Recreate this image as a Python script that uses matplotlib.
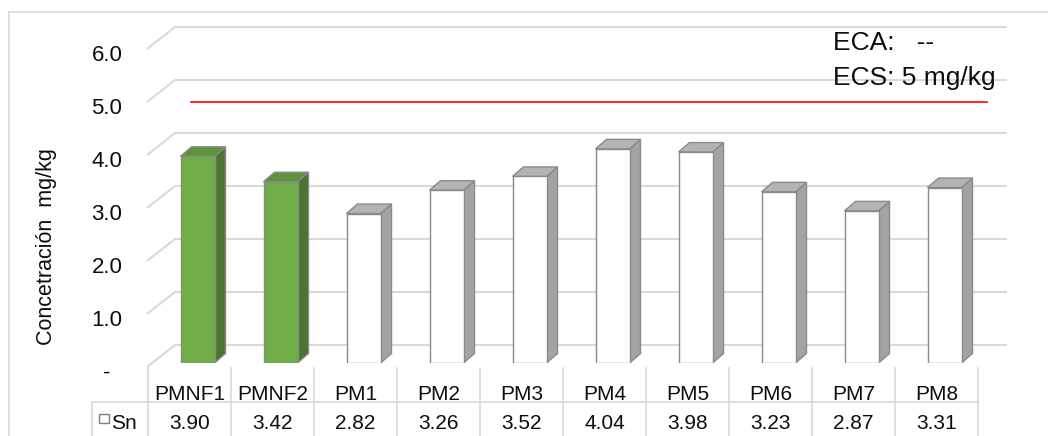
import matplotlib
matplotlib.use("Agg")
import matplotlib.pyplot as plt
import matplotlib.transforms as mtransforms
from matplotlib import font_manager
from matplotlib.patches import Polygon, Rectangle
from matplotlib.lines import Line2D

# datos de concentración de Sn por punto de muestreo
categorias = ["PMNF1", "PMNF2", "PM1", "PM2", "PM3", "PM4", "PM5", "PM6", "PM7", "PM8"]
sn_valores = [3.90, 3.42, 2.82, 3.26, 3.52, 4.04, 3.98, 3.23, 2.87, 3.31]
ecs_limite = 5.0
y_ticks = [0, 1, 2, 3, 4, 5, 6]
y_etiquetas = ["-  ", "1.0", "2.0", "3.0", "4.0", "5.0", "6.0"]

# fuente estrecha tipo Arial Narrow si existe
try:
    font_manager.findfont("Liberation Sans Narrow", fallback_to_default=False)
    FUENTE = "Liberation Sans Narrow"
except ValueError:
    FUENTE = "Liberation Sans"
plt.rcParams["font.family"] = [FUENTE, "DejaVu Sans"]

W, H = 1048, 436
fig = plt.figure(figsize=(W / 100, H / 100), dpi=100)


def fx(px):
    return px / W


def fy(py):
    return 1 - py / H


# ejes: x en categorías, y en mg/kg (plano frontal de las barras)
PX_X, PX_Y = 83.0, 53.0
ax = fig.add_axes([fx(148), fy(363), 830 / W, 6.5 * PX_Y / H])
ax.set_xlim(-0.5, 9.5)
ax.set_ylim(0, 6.5)
for s in ax.spines.values():
    s.set_visible(False)
ax.set_xticks([])
ax.set_yticks(y_ticks)
ax.set_yticklabels(y_etiquetas)
ax.tick_params(axis="y", length=0, pad=18.5, labelsize=16, labelcolor="#0d0d0d")
baja = mtransforms.ScaledTranslation(0, -0.08, fig.dpi_scale_trans)
for lab in ax.get_yticklabels():
    lab.set_transform(lab.get_transform() + baja)

# pared de fondo y suelo (efecto 3D)
gris = "#d9d9d9"
fondo_dy = 18 / PX_Y
frente_dy = -4 / PX_Y
x_frente = (147 - 148) / PX_X - 0.5
x_fondo_izq = (175 - 148) / PX_X - 0.5
x_fondo_der = (1007 - 148) / PX_X - 0.5
for v in y_ticks:
    ax.plot([x_frente, x_fondo_izq, x_fondo_der],
            [v + frente_dy, v + fondo_dy, v + fondo_dy],
            color=gris, lw=1.5, zorder=1, clip_on=False, solid_capstyle="butt")

# barras 3D
ancho = 34 / PX_X
desplaz = 8 / PX_X
ddx, ddy = 11 / PX_X, 9.5 / PX_Y
borde = "#8a8a8a"
for i, v in enumerate(sn_valores):
    if i < 2:
        cara, tapa, lado = "#70ad47", "#5f9338", "#4c7530"
    else:
        cara, tapa, lado = "#ffffff", "#b4b4b4", "#a3a3a3"
    xc = i + desplaz
    x0, x1 = xc - ancho / 2, xc + ancho / 2
    ax.add_patch(Polygon([(x1, 0), (x1, v), (x1 + ddx, v + ddy), (x1 + ddx, ddy)],
                         closed=True, fc=lado, ec=borde, lw=1.0, zorder=3))
    ax.add_patch(Polygon([(x0, v), (x1, v), (x1 + ddx, v + ddy), (x0 + ddx, v + ddy)],
                         closed=True, fc=tapa, ec=borde, lw=1.0, zorder=3))
    ax.bar(xc, v, ancho, color=cara, edgecolor=borde, lw=1.0, zorder=4)

# límite ECS
roja = mtransforms.ScaledTranslation(0, -0.035, fig.dpi_scale_trans)
ax.plot([0.02, 9.61], [ecs_limite, ecs_limite], color="#ff0000", lw=1.2,
        transform=ax.transData + roja, clip_on=False, zorder=2)
fig.text(fx(833), fy(43), "ECA:   --", fontsize=19, va="center", ha="left", color="#0d0d0d")
fig.text(fx(833), fy(78), "ECS: %g mg/kg" % ecs_limite, fontsize=19, va="center",
         ha="left", color="#0d0d0d")

# título del eje y
fig.text(fx(47), fy(247), "Concetración  mg/kg", rotation=90, fontsize=15.5,
         va="center", ha="center", color="#0d0d0d")

# tabla de datos bajo el eje
mezcla = mtransforms.blended_transform_factory(ax.transData, fig.transFigure)
for k in range(len(categorias) + 1):
    fig.add_artist(Line2D([k - 0.5, k - 0.5], [fy(368), 0], color=gris, lw=1.2,
                          transform=mezcla))
fig.add_artist(Line2D([fx(92), fx(978)], [fy(402), fy(402)], color=gris, lw=1.2))
fig.add_artist(Line2D([fx(92), fx(92)], [fy(402), 0], color=gris, lw=1.2))
for i, (c, v) in enumerate(zip(categorias, sn_valores)):
    ax.text(i, fy(394), c, transform=mezcla, ha="center", va="center",
            fontsize=15, color="#0d0d0d")
    ax.text(i, fy(423), "%.2f" % v, transform=mezcla, ha="center", va="center",
            fontsize=15, color="#0d0d0d")
fig.add_artist(Rectangle((fx(99), fy(423)), 10 / W, 9 / H, fc="white",
                         ec="#7f7f7f", lw=1.0, transform=fig.transFigure))
fig.text(fx(111), fy(423), "Sn", ha="left", va="center", fontsize=15, color="#0d0d0d")

# borde del área del gráfico
fig.add_artist(Line2D([fx(9), 1], [fy(12), fy(12)], color=gris, lw=1.2))
fig.add_artist(Line2D([fx(9), fx(9)], [fy(12), 0], color=gris, lw=1.2))

fig.savefig("out.png", dpi=100)
